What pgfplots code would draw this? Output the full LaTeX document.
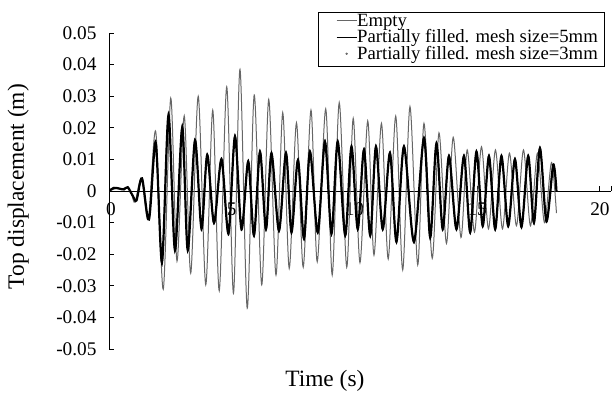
\documentclass[border=0pt]{standalone}
\usepackage{pgfplots}
\pgfplotsset{compat=1.18}
\usepackage{fontspec}
\setmainfont{Liberation Serif}
\begin{document}
\begin{tikzpicture}
\useasboundingbox (0pt,0pt) rectangle (613pt,392pt);
\begin{axis}[
  at={(109pt,43pt)}, anchor=south west,
  scale only axis, width=502pt, height=316pt,
  xmin=0, xmax=20.45, ymin=-0.05, ymax=0.05,
  axis x line*=middle, axis y line*=left,
  axis line style={line width=1pt, black},
  tick style={line width=1pt, black},
  tick align=inside, major tick length=5pt,
  scaled y ticks=false, scaled x ticks=false,
  xtick={5,10,15,20}, xticklabels={5,10,15,20},
  extra x ticks={0,20.45}, extra x tick labels={0,{}},
  extra x tick style={tick align=inside, major tick length=5pt, xticklabel style={xshift=2pt}},
  ytick={-0.05,-0.04,-0.03,-0.02,-0.01,0,0.01,0.02,0.03,0.04,0.05},
  yticklabels={-0.05,-0.04,-0.03,-0.02,-0.01,0,0.01,0.02,0.03,0.04,0.05},
  tick label style={font=\fontsize{19.3}{22}\selectfont},
  yticklabel style={xshift=-9pt},
  xticklabel style={yshift=-8pt},
  xlabel={Time (s)}, ylabel={Top displacement (m)},
  label style={font=\fontsize{23.4}{26}\selectfont},
  xlabel style={at={(axis description cs:0.43,-0.101)}, anchor=center},
  ylabel style={at={(axis description cs:-0.181,0.514)}, anchor=center},
  legend cell align=left,
  legend style={at={(axis description cs:0.986,1.0655)}, anchor=north east,
    draw=black, inner xsep=6pt, inner ysep=2pt,
    font=\fontsize{18.7}{16}\selectfont,
    nodes={inner sep=0pt, text height=11.5pt, text depth=5pt},
    row sep=0pt, column sep=0pt},
  legend image code/.code={\path[draw=none] (0pt,0pt) -- (32pt,0pt);
    \draw[#1] (12pt,2pt) -- (32pt,2pt);},
]
\addplot[black!60, line width=1pt, smooth, tension=0.5] coordinates {
(0,0) (0.305,0.0008) (0.509,0.0004) (0.713,0.0012) (0.916,-0.001) (1.059,-0.0035) (1.324,0.004) (1.599,-0.009)
(1.904,0.0188) (2.210,-0.0311) (2.515,0.0294) (2.770,-0.0222) (3.065,0.0238) (3.330,-0.026) (3.635,0.030)
(3.941,-0.0297) (4.226,0.0256) (4.491,-0.0316) (4.796,0.033) (5.071,-0.0324) (5.336,0.0385) (5.631,-0.0371)
(5.916,0.0304) (6.222,-0.0297) (6.507,0.029) (6.802,-0.0266) (7.077,0.0248) (7.342,-0.0245) (7.637,0.0216)
(7.912,-0.0241) (8.228,0.0256) (8.482,-0.0224) (8.829,0.026) (9.093,-0.0266) (9.379,0.028) (9.684,-0.0241)
(9.949,0.023) (10.224,-0.0227) (10.539,0.0222) (10.794,-0.0203) (11.099,0.0214) (11.374,-0.0215) (11.680,0.0237)
(11.965,-0.025) (12.260,0.0267) (12.576,-0.0234) (12.831,0.0214) (13.167,-0.0213) (13.442,0.0184) (13.747,-0.0166)
(14.022,0.017) (14.338,-0.0147) (14.592,0.013) (14.888,-0.013) (15.173,0.014) (15.458,-0.012) (15.743,0.013)
(16.028,-0.012) (16.313,0.012) (16.598,-0.011) (16.884,0.013) (17.169,-0.011) (17.454,0.012) (17.739,-0.010)
(18.024,0.009) (18.228,-0.007)
};
\addlegendentry{Empty}
\addplot[black, line width=1pt, smooth, tension=0.5] coordinates {
(0,0) (0.204,0.001) (0.407,0.0008) (0.611,0.0005) (0.764,0.0012) (0.967,-0.0015) (1.120,-0.003) (1.344,0.004)
(1.629,-0.009) (1.904,0.016) (2.159,-0.0235) (2.424,0.0245) (2.688,-0.019) (2.984,0.021) (3.208,-0.019)
(3.503,0.0165) (3.768,-0.0125) (4.002,0.0118) (4.277,-0.0105) (4.582,0.0105) (4.867,-0.014) (5.132,0.0178)
(5.397,-0.0125) (5.672,0.0098) (5.906,-0.0145) (6.151,0.0128) (6.395,-0.0125) (6.619,0.0123) (6.924,-0.013)
(7.210,0.0124) (7.434,-0.0135) (7.698,0.0102) (7.943,-0.0155) (8.187,0.0128) (8.503,-0.0135) (8.798,0.016)
(9.063,-0.014) (9.317,0.016) (9.623,-0.0145) (9.878,0.0145) (10.132,-0.0125) (10.387,0.0135) (10.641,-0.0145)
(10.875,0.0145) (11.150,-0.0125) (11.446,0.0125) (11.710,-0.0165) (12.016,0.0145) (12.423,-0.0165) (12.831,0.017)
(13.085,-0.015) (13.340,0.0155) (13.594,-0.0125) (13.849,0.0115) (14.154,-0.0125) (14.460,0.0115) (14.714,-0.0135)
(14.969,0.0128) (15.224,-0.0115) (15.478,0.0115) (15.732,-0.0125) (15.987,0.0115) (16.262,-0.0115) (16.537,0.0105)
(16.802,-0.0118) (17.077,0.0115) (17.311,-0.0105) (17.555,0.014) (17.820,-0.01) (18.095,0.0086) (18.228,0.0)
};
\addlegendentry{Partially filled. mesh size=5mm}
\addplot[black, line width=2.2pt, smooth, tension=0.5, forget plot] coordinates {
(0,0) (0.204,0.001) (0.407,0.0008) (0.611,0.0005) (0.764,0.0012) (0.967,-0.0015) (1.120,-0.003) (1.344,0.004)
(1.629,-0.009) (1.904,0.0152) (2.159,-0.0224) (2.424,0.024) (2.688,-0.0187) (2.984,0.020) (3.208,-0.0187)
(3.503,0.016) (3.768,-0.0118) (4.002,0.0114) (4.277,-0.010) (4.582,0.010) (4.867,-0.0134) (5.132,0.0172)
(5.397,-0.012) (5.672,0.0093) (5.906,-0.014) (6.151,0.0124) (6.395,-0.012) (6.619,0.0119) (6.924,-0.0125)
(7.210,0.012) (7.434,-0.013) (7.698,0.0098) (7.943,-0.015) (8.187,0.0124) (8.503,-0.013) (8.798,0.0156)
(9.063,-0.0134) (9.317,0.0156) (9.623,-0.014) (9.878,0.014) (10.132,-0.012) (10.387,0.013) (10.641,-0.014)
(10.875,0.014) (11.150,-0.012) (11.446,0.012) (11.710,-0.016) (12.016,0.014) (12.423,-0.016) (12.831,0.0167)
(13.085,-0.0147) (13.340,0.015) (13.594,-0.012) (13.849,0.011) (14.154,-0.012) (14.460,0.011) (14.714,-0.013)
(14.969,0.0124) (15.224,-0.011) (15.478,0.011) (15.732,-0.012) (15.987,0.011) (16.262,-0.011) (16.537,0.010)
(16.802,-0.0113) (17.077,0.011) (17.311,-0.010) (17.555,0.0135) (17.820,-0.0095) (18.095,0.0082) (18.228,0.0)
};
\addlegendimage{legend image code/.code={\path[draw=none] (0pt,0pt) -- (32pt,0pt); \fill[black!60] (22pt,2pt) circle (0.9pt);}}
\addlegendentry{Partially filled. mesh size=3mm}
\end{axis}
\end{tikzpicture}
\end{document}
